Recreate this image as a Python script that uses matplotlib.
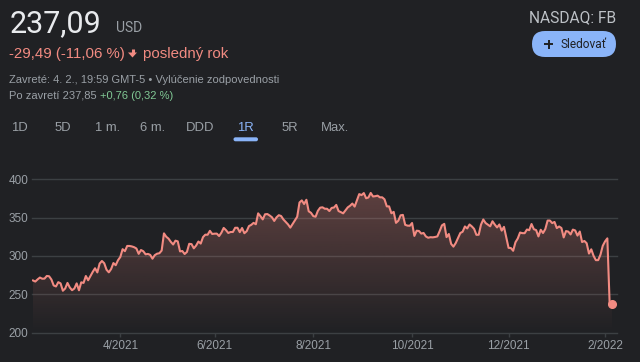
import numpy as np
import pandas as pd
import matplotlib
matplotlib.use("Agg")
import matplotlib.pyplot as plt
from matplotlib.patches import FancyBboxPatch
from matplotlib.colors import to_rgb

plt.rcParams['font.family'] = ['Liberation Sans', 'DejaVu Sans']

# closing prices, one per trading day, grouped by month
feb21 = [268.1, 266.7, 269.5, 271.9, 270.4, 270.5, 273.97, 273.6, 269.4, 261.6, 260.3, 265.9, 264.3, 254.7, 257.6]
mar21 = [264.9, 259.0, 255.4, 257.6, 264.3, 255.3, 265.7, 264.9, 273.9, 268.4, 273.8, 279.3, 284.0, 278.6, 290.1,
         293.5, 290.6, 282.1, 278.7, 283.0, 290.8, 288.0, 294.5]
apr21 = [298.7, 308.9, 306.3, 313.1, 313.1, 312.5, 311.5, 309.8, 302.8, 307.8, 306.2, 302.2, 302.7, 301.5, 296.5,
         301.1, 303.0, 303.6, 307.1, 329.5, 325.1]
may21 = [322.6, 318.4, 315.0, 320.0, 319.1, 306.0, 306.5, 302.6, 305.3, 315.9, 315.5, 310.0, 313.6, 318.9, 316.2,
         324.6, 327.8, 327.7, 332.8, 328.7]
jun21 = [329.1, 329.2, 326.0, 330.4, 336.6, 333.7, 330.0, 331.3, 331.3, 336.8, 336.8, 331.1, 336.5, 329.7, 332.3,
         339.0, 340.6, 343.2, 341.4, 355.6, 351.9, 347.7]
jul21 = [354.4, 354.7, 352.8, 350.5, 345.7, 350.4, 353.2, 352.1, 347.6, 344.5, 341.2, 337.0, 341.7, 346.2, 351.2,
         369.8, 372.5, 367.8, 373.3, 358.3, 356.3]
aug21 = [352.0, 351.2, 358.9, 363.0, 363.5, 361.6, 361.6, 358.6, 362.7, 363.2, 366.6, 358.6, 357.2, 355.6, 359.4,
         363.4, 365.5, 368.4, 364.4, 372.6, 380.7, 379.4]
sep21 = [382.05, 375.3, 376.3, 382.2, 377.6, 378.0, 378.7, 376.5, 376.5, 373.9, 364.7, 364.7, 355.7, 357.5, 343.2,
         346.0, 353.0, 353.6, 340.65, 339.6, 339.4]
oct21 = [343.0, 326.2, 333.0, 332.6, 329.2, 330.05, 325.5, 323.8, 324.5, 324.3, 324.8, 325.5, 332.4, 339.9, 341.9,
         324.6, 328.7, 315.8, 312.2, 316.9, 323.6]
nov21 = [330.0, 331.6, 338.5, 335.9, 341.1, 338.6, 335.4, 327.6, 327.7, 340.9, 347.6, 343.0, 340.8, 338.7, 345.3,
         341.0, 337.25, 341.1, 333.1, 338.0, 324.5]
dec21 = [310.6, 310.4, 306.8, 317.9, 322.8, 330.6, 329.8, 329.75, 334.5, 333.7, 341.7, 334.9, 333.8, 325.5, 334.2,
         330.0, 335.2, 346.2, 346.2, 342.9, 344.4, 336.35]
jan22 = [338.5, 336.5, 324.2, 332.5, 331.8, 328.1, 334.4, 333.3, 326.6, 331.9, 318.2, 319.6, 316.6, 303.2, 308.7,
         300.2, 294.6, 294.6, 301.7, 313.3]
feb22 = [319.0, 323.0, 237.76, 237.09]
prices = feb21 + mar21 + apr21 + may21 + jun21 + jul21 + aug21 + sep21 + oct21 + nov21 + dec21 + jan22 + feb22

holidays = ["2021-02-15", "2021-04-02", "2021-05-31", "2021-07-05", "2021-09-06",
            "2021-11-25", "2021-12-24", "2022-01-17"]
dates = pd.bdate_range("2021-02-05", "2022-02-04")
dates = dates[~dates.isin(pd.to_datetime(holidays))]

tick_months = ["2021-04-01", "2021-06-01", "2021-08-01", "2021-10-01", "2021-12-01", "2022-02-01"]
tick_labels = ["4/2021", "6/2021", "8/2021", "10/2021", "12/2021", "2/2022"]
y_ticks = [200, 250, 300, 350, 400]

tabs = ["1D", "5D", "1 m.", "6 m.", "DDD", "1R", "5R", "Max."]
tab_x = [19.5, 62.5, 107.5, 153, 200.5, 245.8, 289.7, 335]

BG = "#202124"
LINE = "#f28b82"
GRID = "#3c4043"
GRAY = "#9aa0a6"
BLUE = "#8ab4f8"

fig = plt.figure(figsize=(6.4, 3.62), dpi=100, facecolor=BG)

# overlay in pixel coordinates for the header
ov = fig.add_axes([0, 0, 1, 1])
ov.set_xlim(0, 640)
ov.set_ylim(362, 0)
ov.axis("off")
ov.set_zorder(0)

ov.text(10, 32.3, "237,09", family="Roboto", size=22, color="#e8eaed", va="baseline")
ov.text(116, 32.3, "USD", family="Roboto", size=10, color=GRAY, va="baseline")
ov.text(9, 57.7, "-29,49 (-11,06 %)", size=10.8, color=LINE, va="baseline")
# down arrow icon
ov.plot([132.5, 132.5], [48.5, 54], color=LINE, lw=2.2, solid_capstyle="butt")
ov.fill([128, 137, 132.5], [52.5, 52.5, 57.5], color=LINE, lw=0)
ov.text(142.7, 57.7, "posledný rok", size=10.8, color=LINE, va="baseline")
ov.text(9, 83.3, "Zavreté: 4. 2., 19:59 GMT-5 \u2022 Vylúčenie zodpovednosti", size=8.05, color=GRAY, va="baseline")
t4 = ov.text(9, 98.7, "Po zavretí 237,85 ", size=8.05, color=GRAY, va="baseline")
fig.canvas.draw()
bb = t4.get_window_extent(fig.canvas.get_renderer())
x_end = ov.transData.inverted().transform((bb.x1, bb.y0))[0]
ov.text(x_end, 98.7, "+0,76 (0,32 %)", size=8.05, color="#81c995", va="baseline")

ov.text(616, 21.7, "NASDAQ: FB", family="Roboto", size=11.2, color="#bdc1c6", va="baseline", ha="right")
ov.add_patch(FancyBboxPatch((532, 31), 84, 26, boxstyle="round,pad=0,rounding_size=13", fc=BLUE, ec="none"))
ov.plot([544, 553.3], [44.3, 44.3], color=BG, lw=1.4, solid_capstyle="butt")
ov.plot([548.7, 548.7], [39.6, 49], color=BG, lw=1.4, solid_capstyle="butt")
ov.text(560.7, 47.9, "Sledovať", family="Roboto", size=8.6, color=BG, va="baseline")

for lab, cx in zip(tabs, tab_x):
    ov.text(cx, 131, lab, size=9.4, ha="center", va="baseline", color=BLUE if lab == "1R" else GRAY)
ov.add_patch(FancyBboxPatch((233.5, 137.3), 24.5, 4, boxstyle="round,pad=0,rounding_size=2", fc=BLUE, ec="none"))

# chart
ax = fig.add_axes([32 / 640, (362 - 332.7) / 362, 585 / 640, 153.4 / 362])
ax.set_zorder(1)
ax.patch.set_alpha(0)
x = np.arange(len(prices))

poly = ax.fill_between(x, prices, 200, color="none", lw=0)
grad = np.zeros((256, 1, 4))
grad[..., :3] = to_rgb(LINE)
grad[:, 0, 3] = np.linspace(0.32, 0.0, 256)
im = ax.imshow(grad, extent=[x[0], x[-1], 200, 400], aspect="auto", origin="upper", zorder=2)
im.set_clip_path(poly.get_paths()[0], transform=ax.transData)

ax.plot(x, prices, color=LINE, lw=1.5, zorder=3, solid_joinstyle="round")
ax.plot(x[-1], prices[-1], "o", ms=5.5, color=LINE, zorder=4)

ax.set_xlim(-0.44, 254.2)
ax.set_ylim(200, 400)
ax.set_yticks(y_ticks)
ax.set_yticklabels([str(v) for v in y_ticks])
ax.set_xticks([np.searchsorted(dates, pd.Timestamp(m)) for m in tick_months])
ax.set_xticklabels(tick_labels)
ax.grid(axis="y", color=GRID, lw=1)
ax.set_axisbelow(True)
for ln in ax.get_ygridlines():
    ln.set_clip_on(False)
for s in ax.spines.values():
    s.set_visible(False)
ax.tick_params(axis="y", length=0, pad=2.7, labelsize=8.5, labelcolor=GRAY)
ax.tick_params(axis="x", length=3, width=1, color=GRID, pad=2.5, labelsize=8.5, labelcolor=GRAY)

fig.savefig("out.png", dpi=100, facecolor=BG)
